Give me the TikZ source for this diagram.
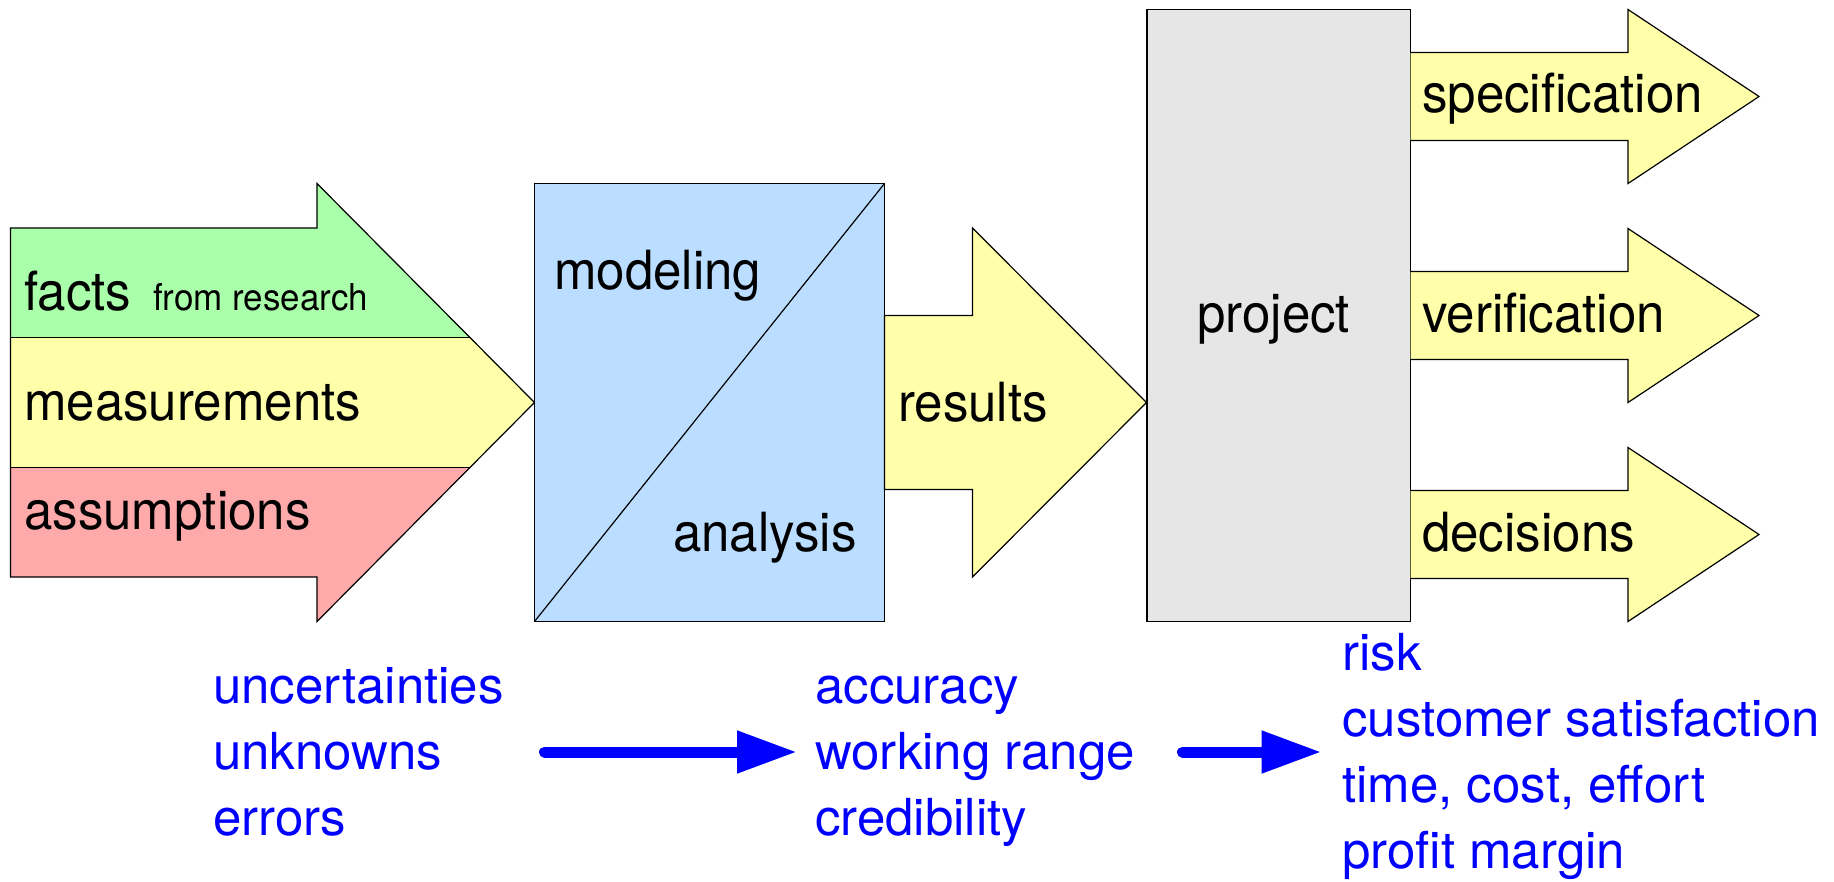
\documentclass[tikz,border=0pt]{standalone}
\usepackage{fontspec}
\setmainfont{TeX Gyre Heros}
\newfontfamily\narrowsans[FakeStretch=0.945]{TeX Gyre Heros}
\usepackage{xcolor}
\definecolor{gr}{RGB}{170,255,170}
\definecolor{ye}{RGB}{255,255,170}
\definecolor{rd}{RGB}{255,170,170}
\definecolor{bl}{RGB}{187,221,255}
\definecolor{gy}{RGB}{230,230,230}
\usepackage{tikz}
\usetikzlibrary{arrows.meta}

\begin{document}
\begin{tikzpicture}[x=1pt,y=-1pt,
  box/.style={draw=black,line width=1.2pt,line join=miter},
  lbl/.style={anchor=base west,inner sep=0pt,font=\narrowsans\fontsize{54}{60}\selectfont},
  note/.style={anchor=base west,inner sep=0pt,align=left,text=blue,font=\fontsize{51}{66}\selectfont},
  flow/.style={draw=blue,line width=11pt,line cap=round,-{Triangle[length=60pt,width=40pt]}}]
  \useasboundingbox (0,0) rectangle (1834,881);
  % input arrow in three bands
  \fill[gr] (10.5,228) -- (317,228) -- (317,183.5) -- (470.4,337.5) -- (10.5,337.5) -- cycle;
  \fill[ye] (10.5,337.5) -- (470.4,337.5) -- (534.5,402.5) -- (470.4,467.5) -- (10.5,467.5) -- cycle;
  \fill[rd] (10.5,467.5) -- (470.4,467.5) -- (317,621.5) -- (317,577) -- (10.5,577) -- cycle;
  \draw[box] (10.5,228) -- (317,228) -- (317,183.5) -- (534.5,402.5) -- (317,621.5) -- (317,577) -- (10.5,577) -- cycle;
  \draw[box] (10.5,337.5) -- (470.4,337.5);
  \draw[box] (10.5,467.5) -- (470.4,467.5);
  % modeling / analysis
  \draw[box,fill=bl] (534.5,183.5) rectangle (884.5,621.5);
  \draw[box] (534.5,621.5) -- (884.5,183.5);
  \draw[box,fill=ye] (884.5,315.5) -- (972.5,315.5) -- (972.5,228) -- (1146.5,402.5) -- (972.5,577) -- (972.5,489.5) -- (884.5,489.5) -- cycle;
  % project and outputs
  \draw[box,fill=gy] (1147,9.5) rectangle (1410.5,621.5);
  \draw[box,fill=ye] (1410.5,52.5) -- (1628,52.5) -- (1628,9.5) -- (1759,96.5) -- (1628,183.5) -- (1628,140.5) -- (1410.5,140.5);
  \draw[box,fill=ye] (1410.5,271.5) -- (1628,271.5) -- (1628,228.5) -- (1759,315.5) -- (1628,402.5) -- (1628,359.5) -- (1410.5,359.5);
  \draw[box,fill=ye] (1410.5,490.5) -- (1628,490.5) -- (1628,447.5) -- (1759,534.5) -- (1628,621.5) -- (1628,578.5) -- (1410.5,578.5);

  \node[lbl] (facts) at (24,310) {facts};
  \node[lbl,font=\narrowsans\fontsize{37}{40}\selectfont] (research) at (153,310) {from research};
  \node[lbl] (meas) at (24,420) {measurements};
  \node[lbl] (assum) at (24,529) {assumptions};
  \node[lbl] (model) at (554,289) {modeling};
  \node[lbl] (anal) at (673,551) {analysis};
  \node[lbl] (res) at (898,421) {results};
  \node[lbl] (proj) at (1197,332) {project};
  \node[lbl] (spec) at (1422,112) {specification};
  \node[lbl] (verif) at (1422,332) {verification};
  \node[lbl] (decis) at (1422,551) {decisions};

  \node[note] (unc) at (213,835) {uncertainties\\unknowns\\errors};
  \node[note] (acc) at (815,835) {accuracy\\working range\\credibility};
  \node[note] (risk) at (1342,868) {risk\\customer satisfaction\\time, cost, effort\\profit margin};

  \coordinate (f1a) at (544.5,752);
  \coordinate (f1b) at (797,752);
  \coordinate (f2a) at (1182.5,752);
  \coordinate (f2b) at (1321.5,752);
  \draw[flow] (f1a) -- (f1b);
  \draw[flow] (f2a) -- (f2b);
\end{tikzpicture}
\end{document}
